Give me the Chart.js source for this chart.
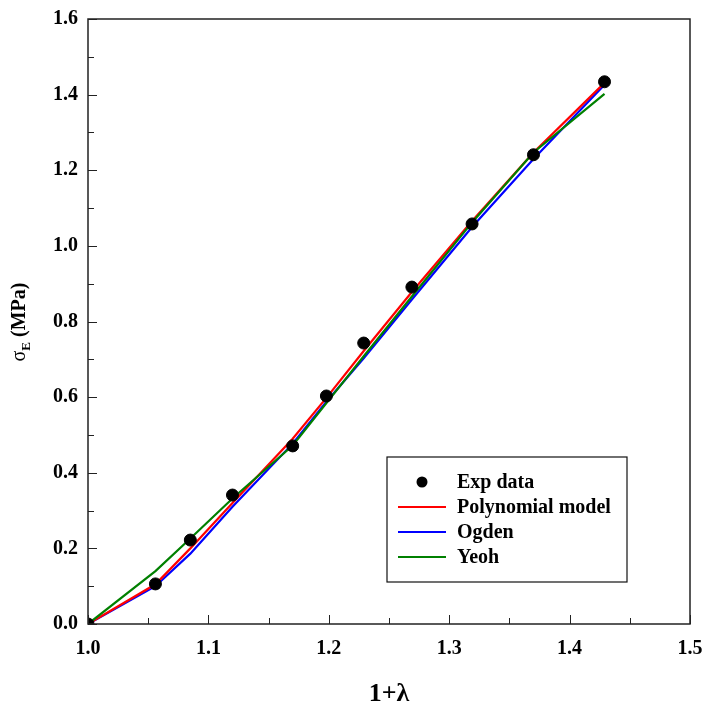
<!DOCTYPE html>
<html>
<head>
    <title>Stress - stretch fit</title>
    <script src="https://cdn.jsdelivr.net/npm/chart.js"></script>
    <style>
        body {
            margin: 0;
            background: #ffffff;
        }

        .chart-container {
            width: 707px;
            height: 707px;
        }
    </style>
</head>
<body>
<div class="chart-container">
    <canvas id="fitChart" width="707" height="707"></canvas>
</div>

<script>
    // stretch values (1 + lambda)
    const stretch = [1.0, 1.056, 1.085, 1.12, 1.17, 1.198, 1.229, 1.269, 1.319, 1.37, 1.429];

    // measured engineering stress (MPa)
    const expStress = [0.0, 0.106, 0.222, 0.341, 0.471, 0.603, 0.743, 0.891, 1.058, 1.241, 1.434];

    // model predictions at the same stretches
    const polyStress = [0.0, 0.105, 0.200, 0.320, 0.490, 0.598, 0.722, 0.878, 1.066, 1.247, 1.431];
    const ogdenStress = [0.0, 0.100, 0.186, 0.310, 0.477, 0.588, 0.703, 0.858, 1.050, 1.230, 1.426];
    const yeohStress = [0.0, 0.140, 0.226, 0.332, 0.472, 0.584, 0.708, 0.866, 1.062, 1.247, 1.402];

    const xTicks = [1.0, 1.1, 1.2, 1.3, 1.4, 1.5];
    const yTicks = [0.0, 0.2, 0.4, 0.6, 0.8, 1.0, 1.2, 1.4, 1.6];

    const SERIF = "'Liberation Serif', 'DejaVu Serif', serif";

    function toPoints(ys) {
        return stretch.map((x, i) => ({ x: x, y: ys[i] }));
    }

    // frame, inward ticks, legend box and the sigma_E axis title
    const decorPlugin = {
        id: 'decor',
        afterDraw(chart) {
            const ctx = chart.ctx;
            const area = chart.chartArea;
            const xs = chart.scales.x;
            const ys = chart.scales.y;

            ctx.save();
            ctx.strokeStyle = '#222';
            ctx.lineWidth = 1.5;
            ctx.strokeRect(area.left, area.top, area.right - area.left, area.bottom - area.top);

            // x ticks: major every 0.1, minor every 0.05
            ctx.lineWidth = 1;
            for (let i = 0; i <= 10; i++) {
                const v = 1.0 + i * 0.05;
                const px = Math.round(xs.getPixelForValue(v)) + 0.5;
                ctx.beginPath();
                ctx.moveTo(px, area.bottom);
                ctx.lineTo(px, area.bottom - (i % 2 === 0 ? 9 : 6));
                ctx.stroke();
            }
            // y ticks: major every 0.2, minor every 0.1
            for (let i = 0; i <= 16; i++) {
                const v = i / 10;
                const py = Math.round(ys.getPixelForValue(v)) + 0.5;
                ctx.beginPath();
                ctx.moveTo(area.left, py);
                ctx.lineTo(area.left + (i % 2 === 0 ? 9 : 6), py);
                ctx.stroke();
            }

            // legend
            const lx = 387, ly = 457, lw = 240, lh = 125;
            ctx.fillStyle = '#ffffff';
            ctx.fillRect(lx, ly, lw, lh);
            ctx.strokeStyle = '#111';
            ctx.lineWidth = 1.2;
            ctx.strokeRect(lx, ly, lw, lh);
            ctx.font = 'bold 20px ' + SERIF;
            ctx.textBaseline = 'middle';
            ctx.textAlign = 'left';
            chart.data.datasets.forEach((ds, i) => {
                const cy = ly + 25 + i * 25;
                if (ds.showLine) {
                    ctx.strokeStyle = ds.borderColor;
                    ctx.lineWidth = 2;
                    ctx.beginPath();
                    ctx.moveTo(398, cy);
                    ctx.lineTo(446, cy);
                    ctx.stroke();
                } else {
                    ctx.fillStyle = '#000';
                    ctx.beginPath();
                    ctx.arc(422, cy, 5.5, 0, Math.PI * 2);
                    ctx.fill();
                }
                ctx.fillStyle = '#000';
                ctx.fillText(ds.label, 457, cy + 1);
            });

            // y axis title with subscript
            ctx.translate(25, 322);
            ctx.rotate(-Math.PI / 2);
            ctx.fillStyle = '#000';
            ctx.textBaseline = 'alphabetic';
            ctx.font = '20px ' + SERIF;
            const sigma = 'σ';
            const wSigma = ctx.measureText(sigma).width;
            ctx.font = 'bold 13px ' + SERIF;
            const sub = 'E';
            const wSub = ctx.measureText(sub).width;
            ctx.font = 'bold 20px ' + SERIF;
            const rest = ' (MPa)';
            const wRest = ctx.measureText(rest).width;
            let x0 = -(wSigma + wSub + wRest) / 2;
            ctx.font = '20px ' + SERIF;
            ctx.fillText(sigma, x0, 0);
            x0 += wSigma;
            ctx.font = 'bold 13px ' + SERIF;
            ctx.fillText(sub, x0, 5);
            x0 += wSub;
            ctx.font = 'bold 20px ' + SERIF;
            ctx.fillText(rest, x0, 0);
            ctx.restore();
        }
    };

    const ctx = document.getElementById('fitChart').getContext('2d');

    new Chart(ctx, {
        type: 'scatter',
        data: {
            datasets: [
                {
                    label: 'Exp data',
                    data: toPoints(expStress),
                    backgroundColor: '#000',
                    borderColor: '#000',
                    pointRadius: 6,
                    showLine: false,
                    order: 0
                },
                {
                    label: 'Polynomial model',
                    data: toPoints(polyStress),
                    borderColor: '#ff0000',
                    borderWidth: 2.2,
                    pointRadius: 0,
                    showLine: true,
                    order: 2
                },
                {
                    label: 'Ogden',
                    data: toPoints(ogdenStress),
                    borderColor: '#0000ff',
                    borderWidth: 2.2,
                    pointRadius: 0,
                    showLine: true,
                    order: 3
                },
                {
                    label: 'Yeoh',
                    data: toPoints(yeohStress),
                    borderColor: '#008000',
                    borderWidth: 2.2,
                    pointRadius: 0,
                    showLine: true,
                    order: 1
                }
            ]
        },
        options: {
            responsive: false,
            animation: false,
            layout: {
                padding: { top: 19, right: 17, left: 0, bottom: 0 }
            },
            plugins: {
                legend: { display: false },
                tooltip: { enabled: false }
            },
            scales: {
                x: {
                    type: 'linear',
                    min: 1.0,
                    max: 1.5,
                    grid: { display: false },
                    border: { display: false },
                    afterBuildTicks: s => { s.ticks = xTicks.map(v => ({ value: v })); },
                    afterFit: s => {
                        s.height = 83;
                        s.paddingLeft = 0;
                        s.paddingRight = 0;
                    },
                    ticks: {
                        color: '#000',
                        padding: 5,
                        font: { family: SERIF, size: 20, weight: 'bold' },
                        callback: v => v.toFixed(1)
                    },
                    title: {
                        display: true,
                        text: '1+λ',
                        color: '#000',
                        padding: { top: 0, bottom: -3 },
                        font: { family: SERIF, size: 26, weight: 'bold' }
                    }
                },
                y: {
                    min: 0,
                    max: 1.6,
                    grid: { display: false },
                    border: { display: false },
                    afterBuildTicks: s => { s.ticks = yTicks.map(v => ({ value: v })); },
                    afterFit: s => {
                        s.width = 88;
                        s.paddingTop = 0;
                        s.paddingBottom = 0;
                    },
                    ticks: {
                        color: '#000',
                        padding: 2,
                        font: { family: SERIF, size: 20, weight: 'bold' },
                        callback: v => v.toFixed(1)
                    }
                }
            }
        },
        plugins: [decorPlugin]
    });
</script>
</body>
</html>
